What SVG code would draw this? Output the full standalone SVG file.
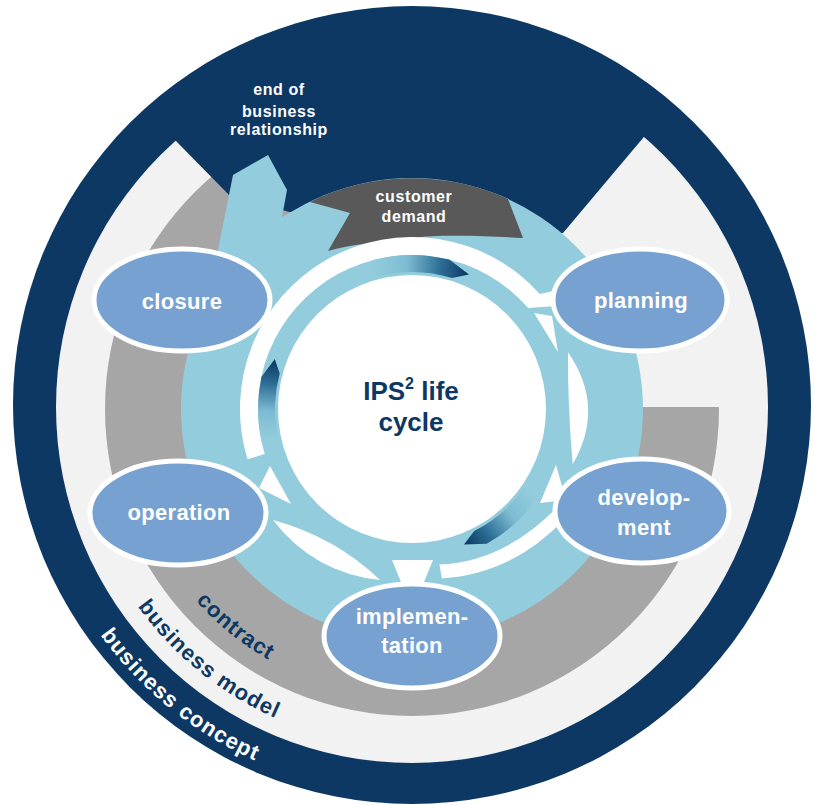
<svg xmlns="http://www.w3.org/2000/svg" width="814" height="805" viewBox="0 0 814 805">
  <defs>
    <style>
      .navy { fill: #0d3863; }
      .lgray { fill: #f2f2f2; }
      .gray { fill: #a6a6a6; }
      .aqua { fill: #93cddd; }
      .gap { fill: #ffffff; }
      .node ellipse { fill: #76a1d0; stroke: #ffffff; stroke-width: 5; }
      .node text { font-family: "Liberation Sans", Arial, sans-serif; font-weight: bold; font-size: 22px; fill: #ffffff; text-anchor: middle; letter-spacing: 0.3px; }
      .ring-label { font-family: "Liberation Sans", Arial, sans-serif; font-weight: bold; font-size: 22px; letter-spacing: 1px; }
      .small-label { font-family: "Liberation Sans", Arial, sans-serif; font-weight: bold; font-size: 16px; fill: #ffffff; text-anchor: middle; letter-spacing: 0.6px; }
      .center-label { font-family: "Liberation Sans", Arial, sans-serif; font-weight: bold; font-size: 26px; fill: #0d3863; text-anchor: middle; }
    </style>
    <clipPath id="grayClip">
      <circle cx="412" cy="409" r="308"/>
    </clipPath>
    <linearGradient id="gTop" gradientUnits="userSpaceOnUse" x1="372" y1="268" x2="469" y2="275">
      <stop offset="0" stop-color="#93cddd"/>
      <stop offset="0.35" stop-color="#7dbcd2"/>
      <stop offset="0.7" stop-color="#2d6e96"/>
      <stop offset="1" stop-color="#0b365f"/>
    </linearGradient>
    <linearGradient id="gLeft" gradientUnits="userSpaceOnUse" x1="270" y1="440" x2="276" y2="360">
      <stop offset="0" stop-color="#93cddd"/>
      <stop offset="0.35" stop-color="#7dbcd2"/>
      <stop offset="0.7" stop-color="#2d6e96"/>
      <stop offset="1" stop-color="#0b365f"/>
    </linearGradient>
    <linearGradient id="gRight" gradientUnits="userSpaceOnUse" x1="531" y1="492" x2="464" y2="544">
      <stop offset="0" stop-color="#93cddd"/>
      <stop offset="0.35" stop-color="#7dbcd2"/>
      <stop offset="0.7" stop-color="#2d6e96"/>
      <stop offset="1" stop-color="#0b365f"/>
    </linearGradient>
    <!-- baselines for the curved ring captions -->
    <path id="arcContract" d="M124.6,439.2 A289,289 0 0,0 442.2,696.4"/>
    <path id="arcModel" d="M75.9,444.3 A338,338 0 0,0 447.3,745.1"/>
    <path id="arcConcept" d="M29.1,449.2 A385,385 0 0,0 452.2,791.9"/>
  </defs>

  <!-- concentric background rings -->
  <g id="rings">
    <circle class="navy" cx="412" cy="405" r="399"/>
    <circle class="lgray" cx="412" cy="407" r="356"/>
    <circle class="gray" cx="412" cy="409" r="307"/>
    <rect class="lgray" x="412" y="60" width="330" height="347" clip-path="url(#grayClip)"/>
    <!-- navy notch at the top -->
    <path class="navy" d="M158,122 L177,142 L229,195 L300,215 L412,235 L563,233 L643,138 L660,118 A380,380 0 0,0 158,122 Z"/>
    <!-- aqua process ring with the exit arrow -->
    <circle class="aqua" cx="412" cy="409" r="231"/>
    <path class="aqua" d="M206,310 L233,175 L268,155 L287,190 L282,217 L310,202 L350,213 L330,245 L250,300 Z"/>
    <!-- customer demand entry -->
    <path fill="#595959" d="M310,202 A231,231 0 0,1 508,199 L523,238 C490,236 440,234 412,238 C380,241 350,245 328,251 L350,213 Z"/>
    <circle fill="#ffffff" cx="412" cy="409" r="134"/>
  </g>

  <!-- cycle connectors -->
  <g id="connectors">
    <path class="gap" d="M247.5,459.3 A172,172 0 0,1 539.8,293.9 L558,290 L556,306 L528.2,308.0 A154,154 0 0,0 264.7,454.0 Z"/>
    <polygon class="gap" points="534,313 552,316 558,352"/>
    <path class="gap" d="M568.0,352.2 Q605.7,406.8 572.7,464.3 Q567.7,407.0 568.0,352.2 Z"/>
    <polygon class="gap" points="556,465 540,503 566,500"/>
    <path class="gap" d="M564.1,519.5 Q511.8,574.3 441.9,578.4 L439.4,564.6 Q505.3,561.7 559.6,504.8 Z"/>
    <polygon class="gap" points="392,560 433,560 424,582 401,582"/>
    <path class="gap" d="M273,520 Q314.1,573.2 380,580 Q335.7,537.2 273,520 Z"/>
    <polygon class="gap" points="270,466 259,488 291,504"/>
    <!-- shaded inner arrows -->
    <path fill="url(#gTop)" d="M372.1,260.2 A154,154 0 0,1 449.3,259.6 L469.0,274.6 L452.1,278.0 A137,137 0 0,0 376.5,276.7 Z"/>
    <path fill="url(#gLeft)" d="M261.4,441.0 A154,154 0 0,1 261.4,377.0 L274.8,359.1 L279.7,373.5 A137,137 0 0,0 278.0,437.5 Z"/>
    <path fill="url(#gRight)" d="M538.2,497.3 A154,154 0 0,1 486.7,543.7 L464.0,544.4 L474.2,531.1 A137,137 0 0,0 524.2,487.6 Z"/>
  </g>

  <g id="node-closure" class="node">
    <ellipse cx="182" cy="300" rx="88" ry="51"/>
    <text x="182" y="309">closure</text>
  </g>
  <g id="node-planning" class="node">
    <ellipse cx="640" cy="300" rx="87" ry="51"/>
    <text x="641" y="308">planning</text>
  </g>
  <g id="node-development" class="node">
    <ellipse cx="642" cy="511" rx="87" ry="52"/>
    <text x="644" y="505">develop-</text>
    <text x="644" y="535">ment</text>
  </g>
  <g id="node-implementation" class="node">
    <ellipse cx="412" cy="636" rx="88" ry="52"/>
    <text x="412" y="624">implemen-</text>
    <text x="412" y="653">tation</text>
  </g>
  <g id="node-operation" class="node">
    <ellipse cx="178" cy="513" rx="88" ry="52"/>
    <text x="179" y="520">operation</text>
  </g>

  <g id="labels">
    <text class="center-label" x="411" y="400">IPS<tspan font-size="16" dy="-11">2</tspan><tspan dy="11"> life</tspan></text>
    <text class="center-label" x="411" y="431">cycle</text>
    <text class="small-label" x="279" y="95">end of</text>
    <text class="small-label" x="279" y="117">business</text>
    <text class="small-label" x="279" y="135">relationship</text>
    <text class="small-label" x="414" y="202">customer</text>
    <text class="small-label" x="414" y="222">demand</text>
    <text class="ring-label" fill="#0d3863"><textPath href="#arcContract" startOffset="50%" text-anchor="middle">contract</textPath></text>
    <text class="ring-label" fill="#0d3863"><textPath href="#arcModel" startOffset="50%" text-anchor="middle">business model</textPath></text>
    <text class="ring-label" fill="#ffffff"><textPath href="#arcConcept" startOffset="50%" text-anchor="middle">business concept</textPath></text>
  </g>
</svg>
